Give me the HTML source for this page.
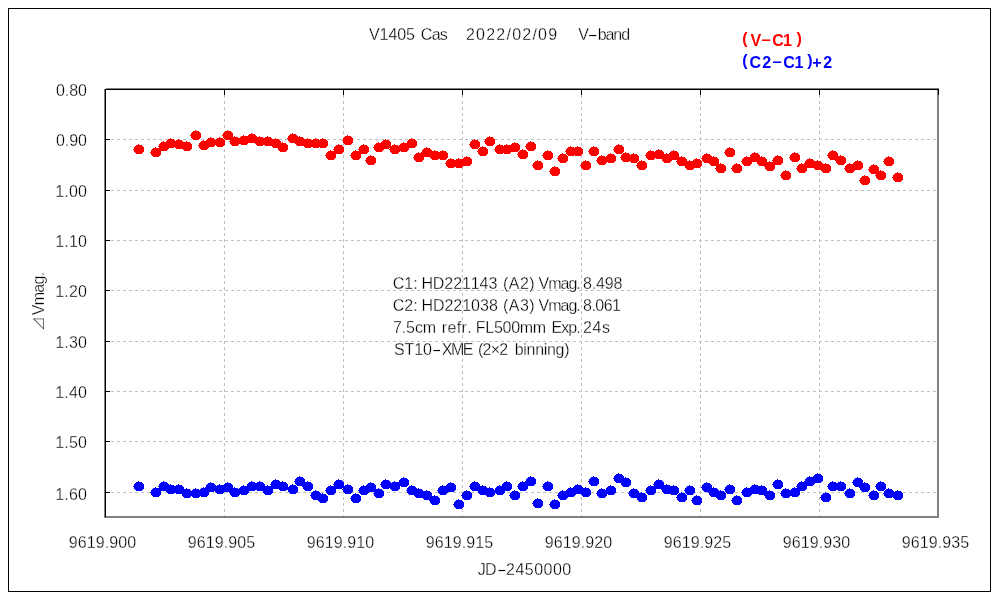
<!DOCTYPE html>
<html lang="ja">
<head>
<meta charset="utf-8">
<title>V1405 Cas 2022/02/09 V-band</title>
<style>
html,body{margin:0;padding:0;background:#fff;}
body{width:1000px;height:600px;overflow:hidden;position:relative;font-family:"Liberation Sans","IPAGothic",sans-serif;}
svg{position:absolute;left:0;top:0;display:block;}
text{font-family:"Liberation Sans","IPAGothic",sans-serif;fill:#000;}
.t{font-size:16px;font-kerning:none;stroke:#fff;stroke-width:0.3px;}
.lg{font-size:16px;font-weight:bold;font-kerning:none;}
</style>
</head>
<body>
<svg width="1000" height="600" viewBox="0 0 1000 600">
<defs>
<path id="m" d="M-3-4h6v1h-6zM-4-3h8v1h-8zM-5-2h10v5h-10zM-4 3h8v1h-8zM-3 4h6v1h-6zM-1-5h1v1h-1zM-6 0h1v1h-1z"/>
</defs>
<rect x="0" y="0" width="1000" height="600" fill="#fff"/>
<g shape-rendering="crispEdges">
<rect x="8.5" y="8.5" width="982" height="583" fill="none" stroke="#000" stroke-width="1"/>
<rect x="105" y="89" width="833" height="428" fill="none" stroke="#808080" stroke-width="2"/>
<rect x="104" y="88" width="2" height="1" fill="#fff"/>

<g stroke="#c0c0c0" stroke-width="1" stroke-dasharray="3 3" fill="none">
<path d="M105 139.5H937"/>
<path d="M105 190.5H937"/>
<path d="M105 240.5H937"/>
<path d="M105 290.5H937"/>
<path d="M105 341.5H937"/>
<path d="M105 391.5H937"/>
<path d="M105 441.5H937"/>
<path d="M105 492.5H937"/>
<path d="M224.5 89V516"/>
<path d="M343.5 89V516"/>
<path d="M462.5 89V516"/>
<path d="M581.5 89V516"/>
<path d="M700.5 89V516"/>
<path d="M819.5 89V516"/>
</g>
<path d="M105.5 89V517M105 89.5H939M106 139.5h4M106 190.5h4M106 240.5h4M106 290.5h4M106 341.5h4M106 391.5h4M106 441.5h4M106 492.5h4M224.5 90v5M343.5 90v5M462.5 90v5M581.5 90v5M700.5 90v5M819.5 90v5M938.5 90v5" stroke="#000" stroke-width="1" fill="none"/>
<g fill="#f00">
<use href="#m" x="139" y="149"/><use href="#m" x="156" y="152"/><use href="#m" x="164" y="146"/><use href="#m" x="171" y="143"/><use href="#m" x="179" y="144"/><use href="#m" x="187" y="146"/><use href="#m" x="196" y="135"/><use href="#m" x="204" y="145"/><use href="#m" x="211" y="142"/><use href="#m" x="220" y="142"/><use href="#m" x="228" y="135"/><use href="#m" x="235" y="141"/><use href="#m" x="244" y="140"/><use href="#m" x="252" y="138"/><use href="#m" x="260" y="141"/><use href="#m" x="268" y="141"/><use href="#m" x="276" y="143"/><use href="#m" x="283" y="147"/><use href="#m" x="293" y="138"/><use href="#m" x="300" y="141"/><use href="#m" x="308" y="143"/><use href="#m" x="316" y="143"/><use href="#m" x="323" y="143"/><use href="#m" x="331" y="155"/><use href="#m" x="339" y="149"/><use href="#m" x="348" y="140"/><use href="#m" x="356" y="155"/><use href="#m" x="364" y="149"/><use href="#m" x="371" y="160"/><use href="#m" x="379" y="147"/><use href="#m" x="386" y="144"/><use href="#m" x="395" y="149"/><use href="#m" x="404" y="147"/><use href="#m" x="412" y="143"/><use href="#m" x="419" y="157"/><use href="#m" x="427" y="152"/><use href="#m" x="435" y="155"/><use href="#m" x="443" y="155"/><use href="#m" x="451" y="163"/><use href="#m" x="459" y="163"/><use href="#m" x="467" y="161"/><use href="#m" x="475" y="144"/><use href="#m" x="483" y="151"/><use href="#m" x="490" y="141"/><use href="#m" x="500" y="149"/><use href="#m" x="507" y="149"/><use href="#m" x="515" y="147"/><use href="#m" x="523" y="154"/><use href="#m" x="531" y="146"/><use href="#m" x="538" y="165"/><use href="#m" x="548" y="155"/><use href="#m" x="555" y="171"/><use href="#m" x="563" y="158"/><use href="#m" x="571" y="151"/><use href="#m" x="578" y="151"/><use href="#m" x="586" y="165"/><use href="#m" x="594" y="151"/><use href="#m" x="602" y="160"/><use href="#m" x="611" y="158"/><use href="#m" x="619" y="149"/><use href="#m" x="626" y="157"/><use href="#m" x="634" y="158"/><use href="#m" x="642" y="165"/><use href="#m" x="651" y="155"/><use href="#m" x="659" y="154"/><use href="#m" x="667" y="158"/><use href="#m" x="674" y="155"/><use href="#m" x="682" y="161"/><use href="#m" x="690" y="165"/><use href="#m" x="697" y="163"/><use href="#m" x="707" y="158"/><use href="#m" x="714" y="161"/><use href="#m" x="721" y="168"/><use href="#m" x="730" y="152"/><use href="#m" x="737" y="168"/><use href="#m" x="747" y="161"/><use href="#m" x="755" y="157"/><use href="#m" x="762" y="161"/><use href="#m" x="770" y="166"/><use href="#m" x="778" y="160"/><use href="#m" x="786" y="175"/><use href="#m" x="795" y="157"/><use href="#m" x="802" y="168"/><use href="#m" x="810" y="163"/><use href="#m" x="818" y="165"/><use href="#m" x="826" y="168"/><use href="#m" x="833" y="155"/><use href="#m" x="841" y="160"/><use href="#m" x="850" y="168"/><use href="#m" x="858" y="165"/><use href="#m" x="865" y="180"/><use href="#m" x="874" y="169"/><use href="#m" x="881" y="175"/><use href="#m" x="889" y="161"/><use href="#m" x="898" y="177"/>
</g>
<g fill="#00f">
<use href="#m" x="139" y="486"/><use href="#m" x="156" y="492"/><use href="#m" x="164" y="486"/><use href="#m" x="171" y="489"/><use href="#m" x="179" y="489"/><use href="#m" x="187" y="493"/><use href="#m" x="196" y="493"/><use href="#m" x="204" y="492"/><use href="#m" x="211" y="487"/><use href="#m" x="220" y="489"/><use href="#m" x="228" y="487"/><use href="#m" x="235" y="492"/><use href="#m" x="244" y="490"/><use href="#m" x="252" y="486"/><use href="#m" x="260" y="486"/><use href="#m" x="268" y="490"/><use href="#m" x="276" y="484"/><use href="#m" x="283" y="486"/><use href="#m" x="293" y="489"/><use href="#m" x="300" y="481"/><use href="#m" x="308" y="486"/><use href="#m" x="316" y="495"/><use href="#m" x="323" y="498"/><use href="#m" x="331" y="490"/><use href="#m" x="339" y="484"/><use href="#m" x="348" y="489"/><use href="#m" x="356" y="498"/><use href="#m" x="364" y="490"/><use href="#m" x="371" y="487"/><use href="#m" x="379" y="493"/><use href="#m" x="386" y="484"/><use href="#m" x="395" y="486"/><use href="#m" x="404" y="482"/><use href="#m" x="412" y="490"/><use href="#m" x="419" y="493"/><use href="#m" x="427" y="495"/><use href="#m" x="435" y="500"/><use href="#m" x="443" y="490"/><use href="#m" x="451" y="487"/><use href="#m" x="459" y="504"/><use href="#m" x="467" y="495"/><use href="#m" x="475" y="486"/><use href="#m" x="483" y="490"/><use href="#m" x="490" y="492"/><use href="#m" x="500" y="490"/><use href="#m" x="507" y="486"/><use href="#m" x="515" y="495"/><use href="#m" x="523" y="486"/><use href="#m" x="531" y="481"/><use href="#m" x="538" y="503"/><use href="#m" x="548" y="486"/><use href="#m" x="555" y="504"/><use href="#m" x="563" y="495"/><use href="#m" x="571" y="492"/><use href="#m" x="578" y="489"/><use href="#m" x="586" y="492"/><use href="#m" x="594" y="481"/><use href="#m" x="602" y="493"/><use href="#m" x="611" y="490"/><use href="#m" x="619" y="478"/><use href="#m" x="626" y="482"/><use href="#m" x="634" y="493"/><use href="#m" x="642" y="497"/><use href="#m" x="651" y="490"/><use href="#m" x="659" y="484"/><use href="#m" x="667" y="489"/><use href="#m" x="674" y="490"/><use href="#m" x="682" y="497"/><use href="#m" x="690" y="490"/><use href="#m" x="697" y="500"/><use href="#m" x="707" y="487"/><use href="#m" x="714" y="492"/><use href="#m" x="721" y="495"/><use href="#m" x="730" y="489"/><use href="#m" x="737" y="500"/><use href="#m" x="747" y="492"/><use href="#m" x="755" y="489"/><use href="#m" x="762" y="490"/><use href="#m" x="770" y="495"/><use href="#m" x="778" y="484"/><use href="#m" x="786" y="493"/><use href="#m" x="795" y="492"/><use href="#m" x="802" y="486"/><use href="#m" x="810" y="481"/><use href="#m" x="818" y="478"/><use href="#m" x="826" y="497"/><use href="#m" x="833" y="486"/><use href="#m" x="841" y="486"/><use href="#m" x="850" y="493"/><use href="#m" x="858" y="482"/><use href="#m" x="865" y="487"/><use href="#m" x="874" y="495"/><use href="#m" x="881" y="486"/><use href="#m" x="889" y="493"/><use href="#m" x="898" y="495"/>
</g>
</g>
<g class="t">
<text y="40"><tspan x="369.03" style="letter-spacing:-0.081px">V1405</tspan> <tspan x="420.79" style="letter-spacing:-0.681px">Cas</tspan> <tspan x="465.9" style="letter-spacing:1.243px">2022/02/09</tspan> <tspan x="578.33" style="letter-spacing:0px">V</tspan><tspan x="587.50" textLength="10.50" lengthAdjust="spacingAndGlyphs">-</tspan><tspan x="597.67" style="letter-spacing:-1.044px">band</tspan></text>
<text y="96"><tspan x="55.88" style="letter-spacing:-0.03px">0.80</tspan></text>
<text y="146"><tspan x="55.88" style="letter-spacing:-0.03px">0.90</tspan></text>
<text y="197"><tspan x="55.28" style="letter-spacing:0.168px">1.00</tspan></text>
<text y="247"><tspan x="55.28" style="letter-spacing:0.168px">1.10</tspan></text>
<text y="297"><tspan x="55.28" style="letter-spacing:0.168px">1.20</tspan></text>
<text y="348"><tspan x="55.28" style="letter-spacing:0.168px">1.30</tspan></text>
<text y="398"><tspan x="55.28" style="letter-spacing:0.168px">1.40</tspan></text>
<text y="448"><tspan x="55.28" style="letter-spacing:0.168px">1.50</tspan></text>
<text y="500"><tspan x="55.28" style="letter-spacing:0.168px">1.60</tspan></text>
<text y="548"><tspan x="68.65" style="letter-spacing:0.12px">9619.900</tspan></text>
<text y="548"><tspan x="187.65" style="letter-spacing:0.127px">9619.905</tspan></text>
<text y="548"><tspan x="306.65" style="letter-spacing:0.12px">9619.910</tspan></text>
<text y="548"><tspan x="425.65" style="letter-spacing:0.127px">9619.915</tspan></text>
<text y="548"><tspan x="544.65" style="letter-spacing:0.12px">9619.920</tspan></text>
<text y="548"><tspan x="663.65" style="letter-spacing:0.127px">9619.925</tspan></text>
<text y="548"><tspan x="782.65" style="letter-spacing:0.12px">9619.930</tspan></text>
<text y="548"><tspan x="901.65" style="letter-spacing:0.127px">9619.935</tspan></text>
<text y="575"><tspan x="477.65" style="letter-spacing:-0.739px">JD</tspan><tspan x="496.75" textLength="10.09" lengthAdjust="spacingAndGlyphs">-</tspan><tspan x="506.1" style="letter-spacing:0.473px">2450000</tspan></text>
<g transform="translate(44 0) rotate(-90)"><text y="0"><tspan x="-331" style="font-size:14px">⊿</tspan><tspan x="-315.37" style="letter-spacing:-0.678px">Vmag.</tspan></text></g>
<text y="289"><tspan x="392.69" style="letter-spacing:0.037px">C1:</tspan> <tspan x="421.39" style="letter-spacing:-0.083px">HD221143</tspan> <tspan x="503.11" style="letter-spacing:0.419px">(A2)</tspan> <tspan x="538.53" style="letter-spacing:-1.003px">Vmag.</tspan> <tspan x="583.1" style="letter-spacing:-0.162px">8.498</tspan></text>
<text y="311"><tspan x="392.69" style="letter-spacing:0.037px">C2:</tspan> <tspan x="421.39" style="letter-spacing:-0.013px">HD221038</tspan> <tspan x="503.11" style="letter-spacing:0.419px">(A3)</tspan> <tspan x="538.53" style="letter-spacing:-1.003px">Vmag.</tspan> <tspan x="583.1" style="letter-spacing:-0.566px">8.061</tspan></text>
<text y="333"><tspan x="392.98" style="letter-spacing:-0.099px">7.5cm</tspan> <tspan x="441.84" style="letter-spacing:0.345px">refr.</tspan> <tspan x="475.79" style="letter-spacing:-0.276px">FL500mm</tspan> <tspan x="551.59" style="letter-spacing:-0.947px">Exp.</tspan> <tspan x="583.0" style="letter-spacing:0.593px">24s</tspan></text>
<text y="355"><tspan x="394.07" style="letter-spacing:-0.164px">ST10</tspan><tspan x="431.79" textLength="9.82" lengthAdjust="spacingAndGlyphs">-</tspan><tspan x="441.84" style="letter-spacing:-1.512px">XME</tspan> <tspan x="477.91" style="letter-spacing:-0.724px">(2×2</tspan> <tspan x="514.77" style="letter-spacing:-0.315px">binning)</tspan></text>
</g>
<g class="lg">
<text x="742.3 750.56" y="44 46" style="fill:#f00">(V</text><text transform="translate(766.10 46) scale(2.018 0.8) translate(-2.66 -2.25)" style="fill:#f00">-</text><text x="772.16 783.07 796.53" y="46 46 44" style="fill:#f00">C1)</text>
<text x="742.3 749.51 762.34" y="66 68 68" style="fill:#00f">(C2</text><text transform="translate(777.10 68) scale(2.018 0.8) translate(-2.66 -2.25)" style="fill:#00f">-</text><text x="783.16 794.57 807.23 812.32 823.19" y="68 68 66 68 68" style="fill:#00f">C1)+2</text>
</g>
</svg>
</body>
</html>
